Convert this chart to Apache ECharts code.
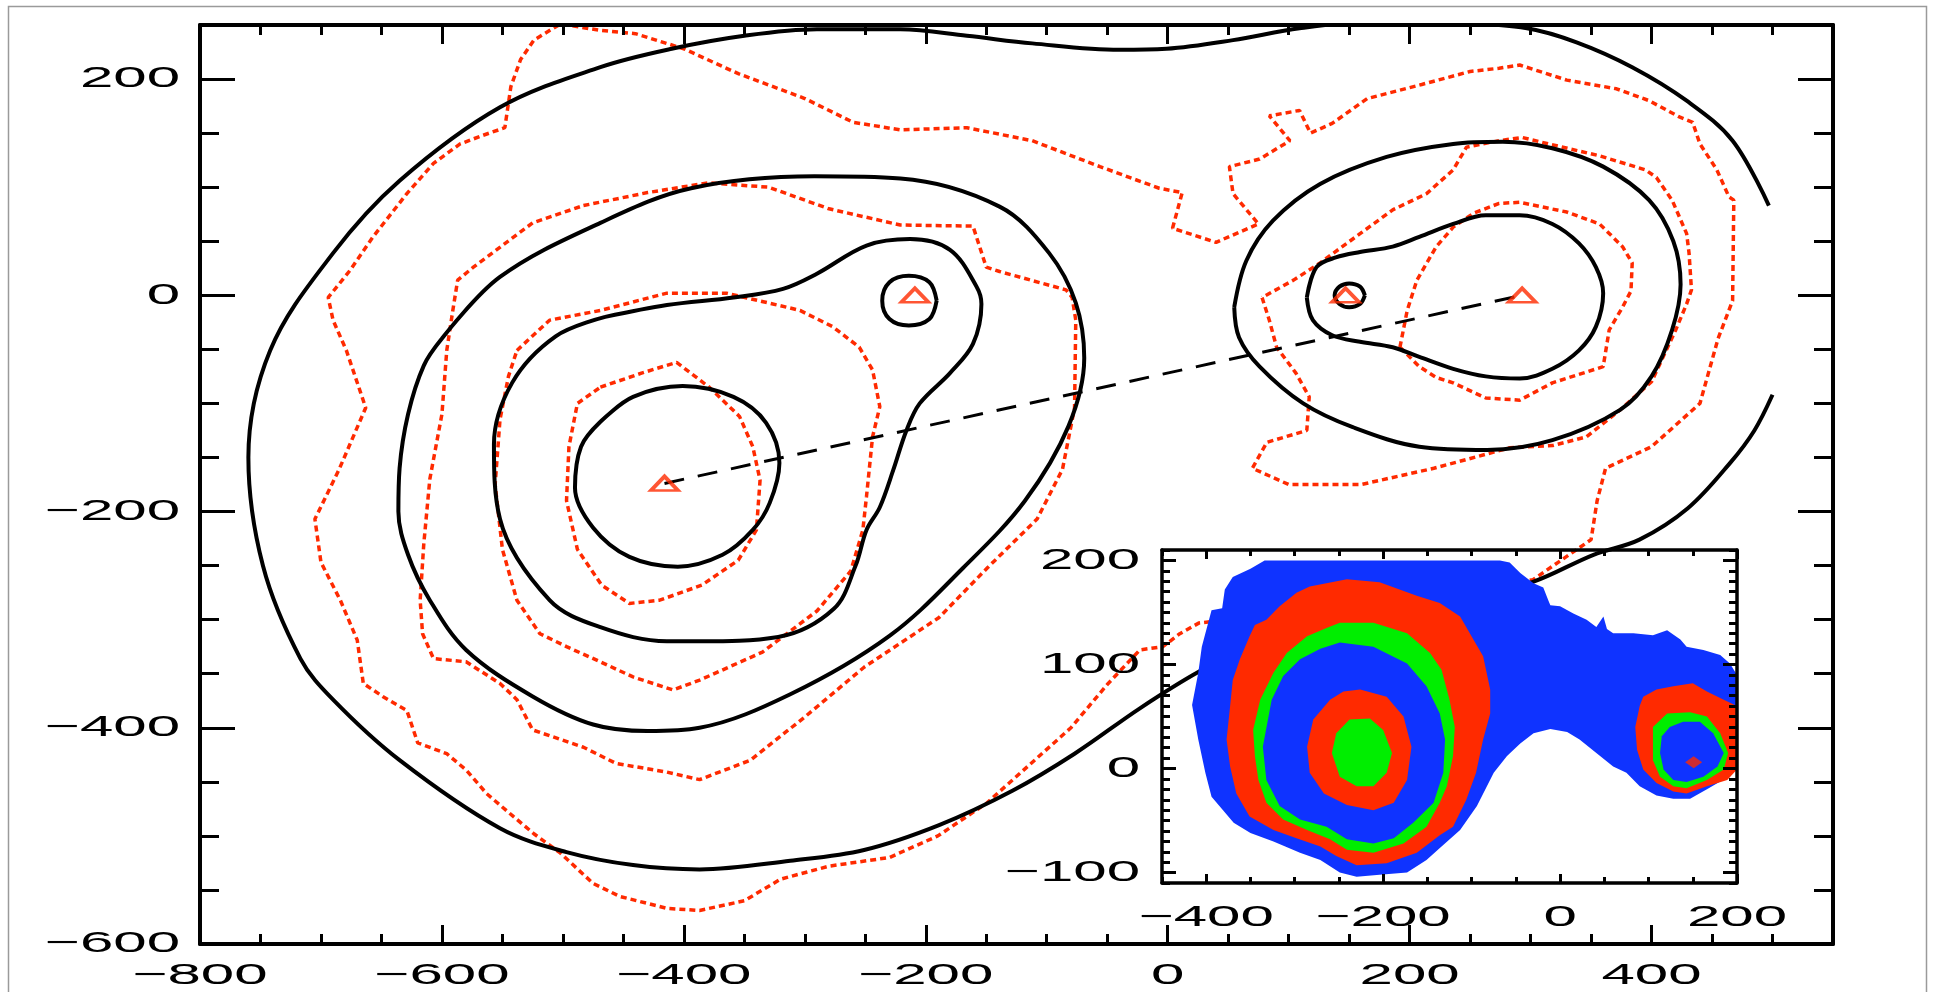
<!DOCTYPE html>
<html>
<head>
<meta charset="utf-8">
<script src="https://cdn.jsdelivr.net/npm/echarts/dist/echarts.min.js"></script>
<style>
  html, body { margin: 0; padding: 0; background: #fff; }
  #chart { width: 1937px; height: 992px; }
</style>
</head>
<body>
<div id="chart"></div>
<script>
// ---- tick labels ----
const MAIN_X_LABELS = [-800, -600, -400, -200, 0, 200, 400];
const MAIN_Y_LABELS = [-600, -400, -200, 0, 200];
const INSET_X_LABELS = [-400, -200, 0, 200];
const INSET_Y_LABELS = [-100, 0, 100, 200];

// ---- peak markers and the line joining the two main peaks ----
const PEAKS = [[-416, -174], [-209, 0], [147, 0], [293, 0]];
const PEAK_LINK = [[-416, -174], [293, 0]];

// ---- model contours (solid black) ----
const SOLID_OUTER = [[497,83],[467,143],[429,180],[384,211],[338,234],[297,247],[240,252],[170,253],[109,247],[54,236],[-1,228],[-40,227],[-112,233],[-166,240],[-221,246],[-290,246],[-350,240],[-410,228],[-469,211],[-552,174],[-635,106],[-690,39],[-742,-51],[-760,-150],[-748,-250],[-717,-336],[-690,-374],[-635,-430],[-552,-493],[-497,-515],[-442,-527],[-387,-531],[-312,-523],[-251,-513],[-189,-490],[-128,-458],[-77,-424],[-23,-382],[26,-348],[80,-318],[150,-295],[220,-282],[270,-272],[302,-265],[352,-240],[390,-226],[430,-197],[465,-155],[485,-125],[500,-92]];
const SOLID_LEFT_2 = [[-600,-40],[-552,17],[-469,67],[-394,99],[-292,110],[-221,108],[-139,82],[-98,39],[-76,-7],[-69,-58],[-82,-121],[-118,-190],[-169,-252],[-230,-315],[-312,-369],[-387,-400],[-430,-403],[-475,-397],[-525,-371],[-580,-328],[-610,-282],[-628,-240],[-636,-200],[-635,-160],[-628,-110],[-615,-65],[-600,-40]];
const SOLID_LEFT_3 = [[-465,-20],[-414,-9],[-359,-2],[-318,6],[-290,20],[-249,46],[-213,52],[-180,42],[-158,8],[-154,-8],[-161,-45],[-180,-72],[-205,-100],[-216,-125],[-227,-162],[-238,-196],[-249,-217],[-258,-250],[-276,-290],[-322,-316],[-387,-320],[-414,-320],[-469,-307],[-511,-282],[-552,-207],[-557,-138],[-542,-81],[-506,-38],[-465,-20]];
const SOLID_LEFT_4 = [[-469,-117],[-442,-94],[-401,-84],[-359,-94],[-332,-118],[-321,-155],[-329,-192],[-343,-217],[-368,-240],[-405,-251],[-445,-242],[-475,-215],[-490,-178],[-485,-140],[-469,-117]];
const SOLID_LEFT_5 = [[-191,-5],[-197,12],[-214,18],[-230,12],[-236,-5],[-230,-22],[-214,-28],[-197,-22],[-191,-5]];
const SOLID_RIGHT_1 = [[55,-11],[65,32],[87,69],[126,103],[181,128],[236,140],[277,142],[318,136],[360,119],[398,88],[418,50],[424,10],[417,-32],[400,-75],[374,-106],[318,-134],[264,-143],[208,-140],[153,-122],[112,-100],[76,-66],[59,-39],[55,-11]];
const SOLID_RIGHT_2 = [[115,-2],[123,26],[139,35],[159,40],[186,45],[208,54],[236,66],[263,74],[291,74],[318,66],[340,48],[354,26],[360,2],[354,-29],[340,-51],[318,-68],[291,-77],[263,-75],[236,-68],[208,-57],[186,-48],[159,-43],[136,-37],[120,-23],[115,-2]];
const SOLID_RIGHT_3 = [[163,0],[159,8],[150,11],[142,8],[138,0],[142,-8],[150,-11],[159,-8],[163,0]];

// ---- observed contours (red dotted) ----
const DOTTED_OUTER = [[35,-302],[26,-303],[10,-313],[-4,-325],[-23,-328],[-50,-360],[-80,-400],[-110,-430],[-150,-470],[-190,-500],[-230,-520],[-280,-528],[-320,-540],[-350,-560],[-387,-569],[-414,-567],[-453,-556],[-475,-544],[-502,-516],[-524,-498],[-541,-482],[-563,-461],[-580,-439],[-596,-424],[-620,-414],[-629,-384],[-649,-371],[-665,-359],[-670,-319],[-684,-282],[-700,-247],[-705,-207],[-685,-161],[-663,-104],[-679,-51],[-690,-23],[-694,-2],[-676,23],[-657,54],[-629,94],[-607,122],[-585,140],[-566,148],[-548,155],[-543,193],[-535,218],[-524,236],[-502,251],[-469,245],[-440,242],[-400,228],[-355,205],[-300,182],[-260,160],[-221,153],[-166,155],[-112,143],[-56,119],[-7,99],[12,95],[4,62],[40,49],[75,66],[54,94],[51,119],[76,126],[101,143],[84,166],[109,171],[118,150],[136,159],[165,182],[210,195],[250,207],[274,210],[291,213],[330,199],[371,191],[398,180],[423,165],[434,160],[440,140],[454,116],[464,91],[468,88],[467,-5],[455,-40],[440,-100],[400,-140],[362,-160],[355,-190],[350,-226],[302,-263],[200,-282],[100,-292],[35,-302]];
const DOTTED_LEFT_2 = [[-483,83],[-430,95],[-380,104],[-330,100],[-280,80],[-221,65],[-161,64],[-150,26],[-139,22],[-84,5],[-79,-2],[-76,-23],[-77,-104],[-87,-161],[-108,-207],[-149,-252],[-189,-298],[-251,-344],[-300,-390],[-345,-430],[-387,-448],[-414,-441],[-456,-433],[-483,-418],[-525,-402],[-538,-374],[-552,-359],[-580,-339],[-607,-336],[-616,-313],[-618,-282],[-615,-230],[-610,-170],[-600,-110],[-596,-51],[-591,-14],[-587,14],[-574,26],[-525,67],[-483,83]];
const DOTTED_LEFT_3 = [[-538,-51],[-511,-23],[-469,-14],[-414,2],[-365,2],[-315,-11],[-304,-14],[-277,-29],[-255,-48],[-244,-69],[-238,-103],[-244,-131],[-249,-186],[-252,-217],[-262,-255],[-290,-292],[-335,-330],[-387,-356],[-409,-365],[-442,-353],[-469,-339],[-497,-325],[-519,-313],[-538,-282],[-550,-235],[-556,-175],[-552,-115],[-545,-75],[-538,-51]];
const DOTTED_LEFT_4 = [[-469,-85],[-435,-72],[-406,-62],[-379,-85],[-354,-112],[-343,-140],[-337,-171],[-340,-217],[-355,-245],[-385,-268],[-420,-282],[-445,-285],[-468,-268],[-488,-235],[-497,-190],[-495,-140],[-488,-100],[-469,-85]];
const DOTTED_RIGHT_2 = [[78,-2],[84,-23],[90,-48],[106,-72],[117,-94],[115,-125],[82,-136],[70,-160],[100,-175],[160,-175],[220,-160],[283,-141],[318,-139],[346,-131],[374,-106],[400,-80],[420,-32],[429,-8],[433,5],[431,39],[429,57],[417,88],[404,109],[395,116],[357,129],[315,140],[293,146],[274,143],[247,137],[236,116],[214,94],[186,79],[159,57],[126,30],[104,14],[78,-2]];
const DOTTED_RIGHT_3 = [[192,-48],[198,-14],[206,14],[222,45],[236,63],[253,76],[274,85],[291,86],[330,77],[357,66],[376,45],[384,30],[383,4],[376,-11],[365,-32],[360,-66],[318,-81],[291,-97],[263,-95],[236,-81],[222,-76],[208,-66],[192,-48]];

// ---- inset: filled intensity levels ----
const BLUE_OUTER = [[-334,200],[-350,192],[-370,184],[-379,172],[-382,154],[-394,152],[-405,117],[-409,92],[-416,61],[-409,28],[-401,-4],[-394,-27],[-381,-40],[-369,-52],[-350,-62],[-324,-70],[-294,-81],[-271,-88],[-249,-100],[-230,-104],[-204,-102],[-173,-100],[-151,-88],[-134,-75],[-113,-59],[-94,-36],[-75,-4],[-60,12],[-45,24],[-30,34],[-11,38],[8,35],[22,28],[41,15],[60,2],[75,-4],[90,-17],[109,-26],[128,-29],[147,-29],[166,-20],[184,-11],[196,-1],[200,6],[200,90],[192,101],[181,109],[162,114],[143,117],[136,124],[121,133],[105,128],[83,130],[60,130],[53,134],[49,146],[41,136],[30,143],[15,149],[0,156],[-11,157],[-13,161],[-19,174],[-30,178],[-45,188],[-57,198],[-68,200]];
const RED_RING = [[-283,175],[-241,182],[-204,179],[-162,166],[-136,159],[-113,146],[-98,124],[-87,108],[-79,76],[-79,53],[-87,28],[-95,-4],[-106,-30],[-121,-56],[-136,-64],[-162,-81],[-196,-91],[-230,-93],[-253,-84],[-271,-75],[-298,-67],[-324,-59],[-351,-46],[-366,-24],[-373,2],[-377,28],[-373,60],[-370,85],[-362,105],[-351,127],[-345,138],[-332,143],[-317,156],[-298,169]];
const GREEN_RING = [[-249,140],[-211,140],[-173,130],[-147,111],[-134,95],[-125,66],[-119,40],[-121,12],[-128,-17],[-136,-33],[-151,-56],[-177,-72],[-211,-81],[-241,-78],[-260,-68],[-286,-59],[-313,-49],[-332,-33],[-341,-11],[-345,12],[-347,37],[-339,66],[-324,92],[-309,111],[-286,127],[-264,135]];
const BLUE_INNER = [[-249,121],[-211,117],[-173,101],[-151,79],[-136,53],[-130,28],[-132,-4],[-143,-33],[-166,-52],[-188,-67],[-211,-72],[-241,-68],[-264,-56],[-294,-49],[-317,-36],[-332,-11],[-336,21],[-326,66],[-313,89],[-294,105],[-271,115]];
const RED_CORE = [[-226,76],[-196,69],[-177,50],[-168,21],[-173,-11],[-188,-33],[-211,-40],[-241,-35],[-267,-24],[-283,-4],[-286,21],[-279,47],[-260,66],[-245,74]];
const GREEN_CORE = [[-238,47],[-215,48],[-200,37],[-190,15],[-196,-4],[-211,-17],[-230,-17],[-249,-8],[-258,15],[-253,34]];
const RED_RIGHT = [[90,60],[94,69],[109,76],[128,79],[150,82],[166,74],[185,66],[200,60],[200,-1],[189,-11],[166,-17],[143,-24],[128,-22],[109,-14],[94,-1],[87,18],[85,40]];
const GREEN_RIGHT = [[105,40],[121,53],[147,54],[166,50],[181,34],[190,15],[185,-1],[166,-11],[143,-19],[128,-17],[113,-8],[105,8],[105,28]];
const BLUE_RIGHT = [[124,40],[139,45],[158,45],[173,34],[185,15],[178,2],[162,-8],[143,-13],[128,-11],[117,-1],[113,15],[115,31]];
const RIGHT_PEAK = [[151, 6]];

const RED = '#ff2a00';
const BLUE = '#0f33ff';
const GREEN = '#00ee00';
const LABEL_FONT = '30px "Liberation Sans", Arial, sans-serif';

const chart = echarts.init(document.getElementById('chart'), null, { renderer: 'canvas' });

// one axis per side for the long ticks, one for the short ticks
function axis(grid, pos, min, max, opts) {
  const a = {
    type: 'value', gridIndex: grid, position: pos, min: min, max: max,
    splitLine: { show: false }, axisLabel: { show: false },
    axisLine: { show: !!opts.line, onZero: false, lineStyle: { color: '#000', width: opts.line || 1 } },
    axisTick: { show: true, inside: true, length: opts.len, lineStyle: { color: '#000', width: opts.tw || 3 } },
    z: opts.z || 5
  };
  if (opts.interval) a.interval = opts.interval;
  if (opts.values) a.axisTick.customValues = opts.values;
  return a;
}

const xAxes = [
  axis(0, 'bottom', -800, 550, { interval: 200, len: 19, line: 4 }),
  axis(0, 'bottom', -800, 550, { interval: 50, len: 10 }),
  axis(0, 'top', -800, 550, { interval: 200, len: 19, line: 4 }),
  axis(0, 'top', -800, 550, { interval: 50, len: 10 }),
  axis(1, 'bottom', -450, 200, { values: INSET_X_LABELS, interval: 50, len: 9, line: 3.5, z: 40 }),
  axis(1, 'bottom', -450, 200, { interval: 50, len: 6, z: 40 }),
  axis(1, 'top', -450, 200, { values: INSET_X_LABELS, interval: 50, len: 9, line: 3.5, z: 40 }),
  axis(1, 'top', -450, 200, { interval: 50, len: 6, z: 40 })
];
const yAxes = [
  axis(0, 'left', -600, 250, { interval: 200, len: 35, line: 4 }),
  axis(0, 'left', -600, 250, { interval: 50, len: 19 }),
  axis(0, 'right', -600, 250, { interval: 200, len: 35, line: 4 }),
  axis(0, 'right', -600, 250, { interval: 50, len: 19 }),
  axis(1, 'left', -110, 210, { values: INSET_Y_LABELS, interval: 10, len: 14, line: 3.5, z: 40 }),
  axis(1, 'left', -110, 210, { interval: 10, len: 8, z: 40 }),
  axis(1, 'right', -110, 210, { values: INSET_Y_LABELS, interval: 10, len: 14, line: 3.5, z: 40 }),
  axis(1, 'right', -110, 210, { interval: 10, len: 8, z: 40 })
];

function contourLine(data, dotted) {
  return {
    type: 'line', xAxisIndex: 0, yAxisIndex: 0, data: data,
    showSymbol: false, symbol: 'none', silent: true,
    smooth: dotted ? false : 0.35,
    lineStyle: dotted
      ? { color: RED, width: 3.5, type: [6, 4], cap: 'butt' }
      : { color: '#000', width: 4 },
    z: dotted ? 3 : 4
  };
}

function fill(points, color, z) {
  return {
    type: 'custom', coordinateSystem: 'cartesian2d', xAxisIndex: 4, yAxisIndex: 4,
    data: [points[0]], z: z, silent: true,
    renderItem: function (params, api) {
      return {
        type: 'polygon',
        shape: { points: points.map(function (p) { return api.coord(p); }) },
        style: { fill: color }
      };
    }
  };
}

const series = [];
[DOTTED_OUTER, DOTTED_LEFT_2, DOTTED_LEFT_3, DOTTED_LEFT_4, DOTTED_RIGHT_2, DOTTED_RIGHT_3]
  .forEach(function (d) { series.push(contourLine(d, true)); });
[SOLID_OUTER, SOLID_LEFT_2, SOLID_LEFT_3, SOLID_LEFT_4, SOLID_LEFT_5, SOLID_RIGHT_1, SOLID_RIGHT_2, SOLID_RIGHT_3]
  .forEach(function (d) { series.push(contourLine(d, false)); });

series.push({
  type: 'line', xAxisIndex: 0, yAxisIndex: 0, data: PEAK_LINK, showSymbol: false, symbol: 'none', silent: true,
  lineStyle: { color: '#000', width: 3, type: [20, 14] }, z: 4
});
series.push({
  type: 'scatter', xAxisIndex: 0, yAxisIndex: 0, data: PEAKS, symbol: 'triangle', symbolSize: [27, 14], silent: true,
  itemStyle: { color: 'rgba(0,0,0,0)', borderColor: RED, borderWidth: 3.5 }, z: 6
});

series.push(fill(BLUE_OUTER, BLUE, 10));
series.push(fill(RED_RING, RED, 11));
series.push(fill(GREEN_RING, GREEN, 12));
series.push(fill(BLUE_INNER, BLUE, 13));
series.push(fill(RED_CORE, RED, 14));
series.push(fill(GREEN_CORE, GREEN, 15));
series.push(fill(RED_RIGHT, RED, 11));
series.push(fill(GREEN_RIGHT, GREEN, 12));
series.push(fill(BLUE_RIGHT, BLUE, 13));
series.push({
  type: 'scatter', xAxisIndex: 4, yAxisIndex: 4, data: RIGHT_PEAK, symbol: 'diamond', symbolSize: [17, 12],
  itemStyle: { color: RED }, silent: true, z: 16
});

chart.setOption({
  animation: false,
  backgroundColor: '#fff',
  grid: [
    { left: 200, top: 25, width: 1633, height: 919 },
    { left: 1162, top: 550, width: 575, height: 333 }
  ],
  xAxis: xAxes,
  yAxis: yAxes,
  series: series
});

// tick labels: wide lettering, placed at the axis positions
function fmt(v) { return v < 0 ? '\u2212' + Math.abs(v) : String(v); }
function label(txt, x, y, align) {
  return {
    type: 'text', x: x, y: y, scaleX: 2, z: 50, silent: true,
    style: { text: txt, font: LABEL_FONT, fill: '#000', align: align, textAlign: align, verticalAlign: 'middle', textVerticalAlign: 'middle' }
  };
}
const texts = [];
MAIN_X_LABELS.forEach(function (v) { texts.push(label(fmt(v), chart.convertToPixel({ xAxisIndex: 0 }, v), 976, 'center')); });
MAIN_Y_LABELS.forEach(function (v) { texts.push(label(fmt(v), 180, chart.convertToPixel({ yAxisIndex: 0 }, v), 'right')); });
INSET_X_LABELS.forEach(function (v) { texts.push(label(fmt(v), chart.convertToPixel({ xAxisIndex: 4 }, v), 918, 'center')); });
INSET_Y_LABELS.forEach(function (v) { texts.push(label(fmt(v), 1140, chart.convertToPixel({ yAxisIndex: 4 }, v), 'right')); });

texts.push({
  type: 'rect', z: 0, silent: true,
  shape: { x: 8.5, y: 6.5, width: 1918, height: 1000 },
  style: { fill: 'none', stroke: '#9a9a9a', lineWidth: 1.5 }
});

chart.setOption({ graphic: texts });
</script>
</body>
</html>
